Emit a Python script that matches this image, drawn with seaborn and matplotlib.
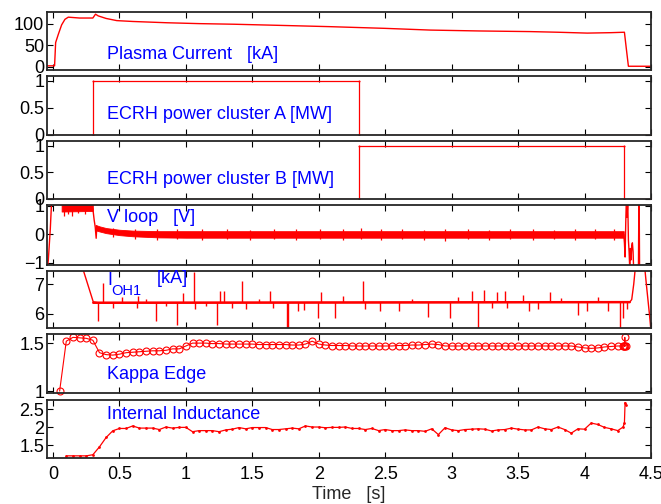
import matplotlib
matplotlib.use("Agg")
import matplotlib.pyplot as plt
import seaborn as sns

# ---- data ----
# plasma current [kA]
t_ip = [-0.05, 0.0, 0.012, 0.02, 0.04, 0.065, 0.09, 0.115, 0.2, 0.3, 0.32, 0.34, 0.4, 0.48,
        0.6, 0.86, 1.1, 1.36, 1.7, 2.08, 2.5, 2.84, 3.2, 3.59, 3.8, 4.02, 4.2, 4.30, 4.315, 4.33, 4.5]
ip = [2, 2, 2, 56, 75, 97, 110, 115, 113, 113, 122, 118, 112, 107,
      105, 102, 100, 98.6, 96, 93, 89, 85, 83, 81.5, 80, 78, 79, 80, 40, 1, 1]

# ECRH clusters [MW]
t_ecrh_a = [-0.05, 0.30, 0.30, 2.30, 2.30, 4.5]
p_ecrh_a = [0, 0, 1, 1, 0, 0]
t_ecrh_b = [-0.05, 2.30, 2.30, 4.295, 4.295, 4.5]
p_ecrh_b = [0, 0, 1, 1, 0, 0]

# loop voltage [V]: start transient, noise envelope, end transient
t_vl_start = [-0.045, -0.035, -0.02, -0.01, 0.0, 0.065, 0.30, 0.31, 0.318, 0.325, 0.33]
vl_start = [-1.3, -0.9, 0.2, 1.2, 1.3, 1.3, 0.9, 0.5, 0.25, -0.14, 0.28]
t_vl_env = [0.065, 0.30]
vl_env_hi = [1.1, 1.1]
vl_env_lo = [0.80, 0.82]
t_vl_band = [0.32, 0.35, 0.40, 0.5, 0.6, 0.8, 1.0, 1.5, 2.0, 2.5, 3.0, 3.5, 4.0, 4.295]
vl_band_hi = [0.33, 0.28, 0.22, 0.16, 0.13, 0.11, 0.11, 0.11, 0.11, 0.11, 0.11, 0.11, 0.11, 0.11]
vl_band_lo = [0.14, 0.10, 0.04, -0.03, -0.07, -0.11, -0.12, -0.12, -0.12, -0.12, -0.12, -0.12, -0.12, -0.12]
t_vl_spk = [0.08, 0.11, 0.14, 0.19, 0.24, 0.45, 0.62, 0.78, 0.93, 1.12, 1.31, 1.48, 1.66, 1.83,
            2.01, 2.18, 2.32, 2.47, 2.63, 2.79, 2.95, 3.12, 3.28, 3.44, 3.61, 3.77, 3.93, 4.08, 4.22]
vl_spk_hi = [1.1, 1.1, 1.1, 1.1, 1.1, 0.22, 0.18, 0.17, 0.19, 0.17, 0.18, 0.16, 0.19, 0.17,
             0.18, 0.17, 0.22, 0.17, 0.18, 0.16, 0.17, 0.18, 0.16, 0.19, 0.17, 0.16, 0.18, 0.17, 0.19]
vl_spk_lo = [0.66, 0.72, 0.64, 0.74, 0.70, -0.10, -0.16, -0.20, -0.18, -0.19, -0.17, -0.2, -0.18, -0.19,
             -0.17, -0.2, -0.18, -0.19, -0.17, -0.2, -0.23, -0.18, -0.19, -0.17, -0.2, -0.18, -0.19, -0.17, -0.2]
t_vl_end = [4.295, 4.30, 4.305, 4.31, 4.315, 4.32, 4.325, 4.33, 4.335, 4.34, 4.345, 4.35,
            4.355, 4.36, 4.365, 4.37, 4.38, 4.405, 4.41, 4.415]
vl_end = [0.0, -0.3, -0.8, 0.4, 1.3, 0.6, 1.2, -0.2, -0.6, -1.2, -0.5, -0.9,
          -0.4, -0.3, -0.6, -1.3, -1.4, -1.5, 2.0, -2.0]

# OH current [kA]
t_oh = [-0.05, 0.15, 0.303, 0.35, 4.34, 4.355, 4.37, 4.385, 4.45, 4.465, 4.49, 4.5]
i_oh = [10.0, 8.6, 6.40, 6.36, 6.39, 6.48, 7.0, 7.7, 7.7, 7.0, 5.9, 5.4]
t_oh_spk = [0.341, 0.379, 0.45, 0.52, 0.63, 0.64, 0.70, 0.775, 0.85, 0.93, 0.98, 1.063, 1.065,
            1.15, 1.236, 1.256, 1.29, 1.35, 1.425, 1.455, 1.55, 1.63, 1.655, 1.758, 1.77, 1.84,
            1.89, 1.997, 2.02, 2.12, 2.18, 2.33, 2.35, 2.46, 2.60, 2.70, 2.82, 2.99, 3.05, 3.15,
            3.20, 3.24, 3.30, 3.34, 3.40, 3.42, 3.54, 3.58, 3.65, 3.74, 3.82, 3.95, 4.02, 4.10,
            4.18, 4.27, 4.29, 4.32]
oh_spk = [5.75, 7.05, 6.2, 6.55, 6.2, 6.6, 6.5, 5.75, 6.25, 5.6, 6.69, 7.4, 6.15,
          6.25, 5.6, 6.77, 6.77, 6.2, 7.11, 6.15, 6.5, 6.76, 6.2, 5.3, 5.3, 6.08,
          6.12, 5.85, 6.74, 5.85, 6.6, 7.11, 6.15, 6.08, 6.08, 6.5, 5.9, 5.85, 6.55, 6.76,
          5.3, 6.8, 6.2, 6.74, 6.76, 6.2, 6.64, 6.1, 6.15, 6.74, 6.52, 5.94, 6.08, 6.55,
          6.1, 5.3, 5.85, 6.15]

# kappa edge
t_kappa = [0.05, 0.10, 0.15, 0.20, 0.25, 0.30, 0.35, 0.40, 0.45, 0.50, 0.55, 0.60, 0.65, 0.70,
           0.75, 0.80, 0.85, 0.90, 0.95, 1.00, 1.05, 1.10, 1.15, 1.20, 1.25, 1.30, 1.35, 1.40,
           1.45, 1.50, 1.55, 1.60, 1.65, 1.70, 1.75, 1.80, 1.85, 1.90, 1.95, 2.00, 2.05, 2.10,
           2.15, 2.20, 2.25, 2.30, 2.35, 2.40, 2.45, 2.50, 2.55, 2.60, 2.65, 2.70, 2.75, 2.80,
           2.85, 2.90, 2.95, 3.00, 3.05, 3.10, 3.15, 3.20, 3.25, 3.30, 3.35, 3.40, 3.45, 3.50,
           3.55, 3.60, 3.65, 3.70, 3.75, 3.80, 3.85, 3.90, 3.95, 4.00, 4.05, 4.10, 4.15, 4.20,
           4.25, 4.29, 4.295, 4.30, 4.303, 4.305, 4.31]
kappa = [1.00, 1.52, 1.56, 1.555, 1.55, 1.53, 1.40, 1.38, 1.375, 1.385, 1.40, 1.405, 1.41, 1.415,
         1.42, 1.42, 1.425, 1.44, 1.44, 1.47, 1.50, 1.50, 1.50, 1.495, 1.495, 1.49, 1.49, 1.49,
         1.49, 1.49, 1.485, 1.485, 1.485, 1.485, 1.485, 1.48, 1.48, 1.49, 1.52, 1.49, 1.48, 1.475,
         1.475, 1.475, 1.47, 1.47, 1.47, 1.47, 1.47, 1.47, 1.47, 1.475, 1.475, 1.48, 1.48, 1.485,
         1.49, 1.485, 1.47, 1.47, 1.47, 1.47, 1.47, 1.47, 1.47, 1.47, 1.47, 1.47, 1.47, 1.47,
         1.47, 1.47, 1.47, 1.47, 1.47, 1.47, 1.47, 1.47, 1.46, 1.45, 1.445, 1.45, 1.46, 1.465,
         1.47, 1.47, 1.475, 1.465, 1.56, 1.47, 1.47]

# internal inductance
t_li = [0.10, 0.15, 0.20, 0.25, 0.30, 0.35, 0.40, 0.45, 0.50, 0.55, 0.60, 0.65, 0.70, 0.75,
        0.80, 0.85, 0.90, 0.95, 1.00, 1.05, 1.10, 1.15, 1.20, 1.25, 1.30, 1.35, 1.40, 1.45,
        1.50, 1.55, 1.60, 1.65, 1.70, 1.75, 1.80, 1.85, 1.90, 1.95, 2.00, 2.05, 2.10, 2.15,
        2.20, 2.25, 2.30, 2.35, 2.40, 2.45, 2.50, 2.55, 2.60, 2.65, 2.70, 2.75, 2.80, 2.85,
        2.90, 2.95, 3.00, 3.05, 3.10, 3.15, 3.20, 3.25, 3.30, 3.35, 3.40, 3.45, 3.50, 3.55,
        3.60, 3.65, 3.70, 3.75, 3.80, 3.85, 3.90, 3.95, 4.00, 4.05, 4.10, 4.15, 4.20, 4.25,
        4.29, 4.30, 4.305, 4.31]
li = [1.21, 1.21, 1.21, 1.21, 1.24, 1.46, 1.72, 1.905, 1.97, 1.97, 2.04, 1.98, 1.98, 1.98,
      1.94, 2.01, 1.98, 2.0, 2.0, 1.88, 1.91, 1.91, 1.91, 1.88, 1.93, 1.95, 1.995, 1.96,
      1.995, 1.995, 1.995, 1.94, 1.94, 1.96, 1.98, 1.96, 2.04, 2.01, 2.01, 1.99, 2.0, 2.0,
      2.01, 1.97, 1.97, 1.94, 1.97, 1.91, 1.94, 1.91, 1.91, 1.93, 1.91, 1.91, 1.89, 1.96,
      1.80, 1.99, 1.93, 1.91, 1.94, 1.95, 1.96, 1.95, 1.90, 1.93, 1.94, 1.98, 1.95, 1.93,
      1.93, 2.01, 1.96, 1.94, 2.01, 1.94, 1.84, 1.96, 1.95, 2.12, 2.08, 2.0, 1.96, 1.91,
      2.01, 2.13, 2.69, 2.63]

x_ticks = [0, 0.5, 1, 1.5, 2, 2.5, 3, 3.5, 4, 4.5]
x_ticklabels = ['0', '0.5', '1', '1.5', '2', '2.5', '3', '3.5', '4', '4.5']

# ---- style ----
sns.set_style("ticks")
plt.rcParams['font.family'] = ['Liberation Sans', 'DejaVu Sans']
plt.rcParams['axes.linewidth'] = 1.3
plt.rcParams['axes.unicode_minus'] = True

RED = '#ff0000'
BLUE = '#0000ff'
W, H = 661, 504
FS_TICK = 13
FS_TXT = 13

fig = plt.figure(figsize=(6.61, 5.04), dpi=100)

tops = [12, 76, 141, 205, 271, 334, 400]
bottoms = [70, 135, 199, 265, 328, 393, 458]
axes = []
for top, bot in zip(tops, bottoms):
    ax = fig.add_axes([47 / W, 1 - bot / H, 604 / W, (bot - top) / H])
    ax.set_xlim(-0.045, 4.5)
    ax.set_xticks(x_ticks)
    ax.tick_params(direction='in', top=True, right=True, length=4.5, width=0.8,
                   labelsize=FS_TICK, colors='black')
    ax.tick_params(axis='y', pad=2)
    ax.tick_params(axis='x', pad=6)
    ax.set_xticklabels([])
    axes.append(ax)

ax1, ax2, ax3, ax4, ax5, ax6, ax7 = axes


def trace(ax, x, y, **kw):
    sns.lineplot(x=x, y=y, ax=ax, color=RED, estimator=None, sort=False, **kw)


# 1 plasma current
trace(ax1, t_ip, ip, lw=1.0)
ax1.set_ylim(-7.7, 127)
ax1.set_yticks([0, 50, 100])
ax1.text(0.41, 17, 'Plasma Current   [kA]', color=BLUE, fontsize=FS_TXT)

# 2 / 3 ECRH
trace(ax2, t_ecrh_a, p_ecrh_a, lw=0.9, marker='.', markersize=3, markeredgewidth=0)
ax2.set_ylim(0, 1.09)
ax2.set_yticks([0, 0.5, 1])
ax2.set_yticklabels(['0', '0.5', '1'])
ax2.text(0.41, 0.29, 'ECRH power cluster A [MW]', color=BLUE, fontsize=FS_TXT)

trace(ax3, t_ecrh_b, p_ecrh_b, lw=0.9, marker='.', markersize=3, markeredgewidth=0)
ax3.set_ylim(0, 1.09)
ax3.set_yticks([0, 0.5, 1])
ax3.set_yticklabels(['0', '0.5', '1'])
ax3.text(0.41, 0.277, 'ECRH power cluster B [MW]', color=BLUE, fontsize=FS_TXT)

# 4 loop voltage
ax4.fill_between(t_vl_env, vl_env_lo, vl_env_hi, color=RED, lw=0.6)
ax4.fill_between(t_vl_band, vl_band_lo, vl_band_hi, color=RED, lw=0.6)
ax4.vlines(t_vl_spk, vl_spk_lo, vl_spk_hi, color=RED, lw=0.9)
trace(ax4, t_vl_start, vl_start, lw=1.0)
trace(ax4, t_vl_end, vl_end, lw=1.0)
ax4.set_ylim(-1.08, 1.03)
ax4.set_yticks([-1, 0, 1])
ax4.text(0.41, 0.44, 'V loop   [V]', color=BLUE, fontsize=FS_TXT)

# 5 OH current
trace(ax5, t_oh, i_oh, lw=1.0)
ax5.plot([0.303, 4.34], [6.37, 6.39], color=RED, lw=1.8)
ax5.vlines(t_oh_spk, 6.38, oh_spk, color=RED, lw=1.0)
ax5.set_ylim(5.51, 7.45)
ax5.set_yticks([6, 7])
ax5.text(0.41, 6.98, 'I', color=BLUE, fontsize=FS_TXT)
ax5.text(0.44, 6.64, 'OH1', color=BLUE, fontsize=10.5)
ax5.text(0.78, 7.03, '[kA]', color=BLUE, fontsize=FS_TXT)

# 6 kappa edge
trace(ax6, t_kappa, kappa, lw=0.8, marker='o', markersize=5, markerfacecolor='none',
      markeredgecolor=RED, markeredgewidth=0.8, clip_on=False)
ax6.set_ylim(0.98, 1.595)
ax6.set_yticks([1, 1.5])
ax6.set_yticklabels(['1', '1.5'])
ax6.text(0.41, 1.125, 'Kappa Edge', color=BLUE, fontsize=FS_TXT)

# 7 internal inductance
trace(ax7, t_li, li, lw=0.9, marker='o', markersize=2, markeredgewidth=0)
ax7.set_ylim(1.15, 2.76)
ax7.set_yticks([1.5, 2, 2.5])
ax7.set_yticklabels(['1.5', '2', '2.5'])
ax7.text(0.41, 2.23, 'Internal Inductance', color=BLUE, fontsize=FS_TXT)
ax7.set_xticklabels(x_ticklabels)
ax7.set_xlabel('Time   [s]', fontsize=13, labelpad=2)

for ax in axes:
    ax.set_ylabel('')

fig.savefig('out.png', dpi=100)
